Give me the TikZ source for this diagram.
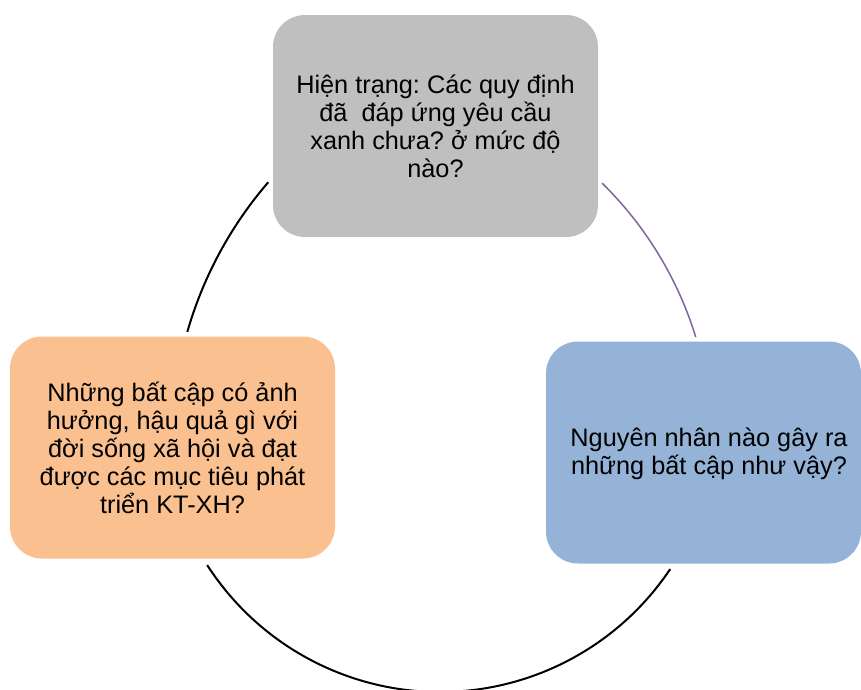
\documentclass[tikz,border=0pt]{standalone}
\usepackage{fontspec}
\setmainfont{Liberation Sans}
\frenchspacing
\definecolor{boxgray}{HTML}{BFBFBF}
\definecolor{boxorange}{HTML}{FAC090}
\definecolor{boxblue}{HTML}{95B3D7}
\definecolor{arcpurple}{HTML}{8064A2}
\tikzset{
  stepbox/.style={rounded corners=32pt, minimum width=#1, minimum height=222pt, inner sep=0pt, align=center, font=\fontsize{25.3}{28}\selectfont},
  txt/.style={align=center, inner sep=0pt, font=\fontsize{25.3}{28}\selectfont},
  cyc/.style={line width=2pt, black},
  cycp/.style={line width=1.5pt, arcpurple}
}
\begin{document}
\begin{tikzpicture}[x=1pt,y=-1pt]
\useasboundingbox (0,0) rectangle (861,689);
\clip (0,0) rectangle (861,689);
\node[stepbox=325pt, fill=boxgray] (top) at (435.5,126) {Hiện trạng: Các quy định\\đã\ \ đáp ứng yêu cầu\\xanh chưa? ở mức độ\\nào?};
\node[stepbox=325pt, fill=boxorange] (left) at (172.5,447.5) {Những bất cập có ảnh\\hưởng, hậu quả gì với\\đời sống xã hội và đạt\\được các mục tiêu phát\\triển KT-XH?};
\node[stepbox=315pt, fill=boxblue] (right) at (703.5,452.5) {};
\node[txt] (righttext) at ([xshift=5.5pt,yshift=-1.5pt]right.center) {Nguyên nhân nào gây ra\\những bất cập như vậy?};
% arcs of the cycle
\coordinate (c1) at (568,441);
\coordinate (c2) at (345,445);
\coordinate (c3) at (440,415);
\draw[cyc] (c1) ++(-139.2:396) coordinate (tl) arc[start angle=-139.2, end angle=-164, radius=396];
\draw[cycp] (c2) ++(-45.5:367) coordinate (tr) arc[start angle=-45.5, end angle=-17.1, radius=367];
\draw[cyc] (c3) ++(147.2:277) coordinate (bt) arc[start angle=147.2, end angle=33.8, radius=277];
\end{tikzpicture}
\end{document}
